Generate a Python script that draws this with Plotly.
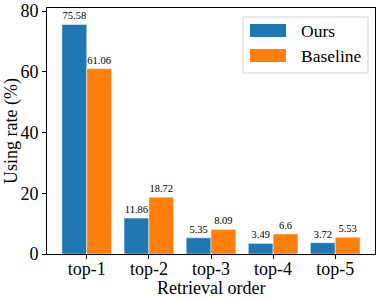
import plotly.graph_objects as go

categories = ["top-1", "top-2", "top-3", "top-4", "top-5"]
ours = [75.58, 11.86, 5.35, 3.49, 3.72]
baseline = [61.06, 18.72, 8.09, 6.6, 5.53]
ours_labels = ["75.58", "11.86", "5.35", "3.49", "3.72"]
baseline_labels = ["61.06", "18.72", "8.09", "6.6", "5.53"]
series_names = ["Ours", "Baseline"]
series_colors = ["#1f77b4", "#ff7f0e"]

font_family = "Liberation Serif, Times New Roman, serif"

fig = go.Figure()
for name, vals, labels, color in zip(series_names, [ours, baseline],
                                     [ours_labels, baseline_labels], series_colors):
    fig.add_trace(go.Bar(x=categories, y=vals, name=name, marker_color=color,
                         marker_line=dict(color="white", width=0.5),
                         text=labels, textposition="outside",
                         textfont=dict(size=10.5, color="black", family=font_family),
                         cliponaxis=False, showlegend=False))

# custom legend (wide swatches like matplotlib)
def px_x(p):
    return (p - 47) / 328

def px_y(p):
    return (254 - p) / 246

shapes = [dict(type="rect", xref="paper", yref="paper",
               x0=px_x(243), x1=px_x(368), y0=px_y(73), y1=px_y(17),
               line=dict(color="#d3d3d3", width=1), fillcolor="white", layer="above")]
annotations = []
for i, (name, color) in enumerate(zip(series_names, series_colors)):
    top = 24 + 25 * i
    shapes.append(dict(type="rect", xref="paper", yref="paper",
                       x0=px_x(250), x1=px_x(286), y0=px_y(top + 13), y1=px_y(top),
                       line=dict(width=0), fillcolor=color, layer="above"))
    annotations.append(dict(text=name, xref="paper", yref="paper",
                            x=px_x(299), y=px_y(top + 7), xanchor="left", yanchor="middle",
                            showarrow=False, font=dict(size=17.5, family=font_family, color="black")))

annotations.append(dict(text="Retrieval order", xref="paper", yref="paper",
                        x=0.5, y=px_y(288), xanchor="center", yanchor="middle",
                        showarrow=False, font=dict(size=18, family=font_family, color="black")))
annotations.append(dict(text="Using rate (%)", xref="paper", yref="paper",
                        x=px_x(11), y=0.5, xanchor="center", yanchor="middle", textangle=-90,
                        showarrow=False, font=dict(size=18, family=font_family, color="black")))

fig.update_layout(
    width=382, height=300,
    margin=dict(l=47, r=7, t=8, b=46, autoexpand=False),
    barmode="group", bargap=0.2, bargroupgap=0,
    plot_bgcolor="white", paper_bgcolor="white",
    font=dict(family=font_family, color="black", size=18),
    shapes=shapes, annotations=annotations,
    showlegend=False,
)
fig.update_xaxes(range=[-0.64, 4.64], showline=True, linecolor="black", linewidth=1,
                 mirror=True, ticks="outside", ticklen=4, tickcolor="black",
                 ticklabelstandoff=-6,
                 tickfont=dict(size=18), showgrid=False, automargin=False)
fig.update_yaxes(range=[0, 81], showline=True, linecolor="black", linewidth=1,
                 mirror=True, ticks="outside", ticklen=4, tickcolor="black",
                 tickvals=[0, 20, 40, 60, 80],
                 tickfont=dict(size=18), showgrid=False, zeroline=False, automargin=False)

fig.write_html("out.html", config={"displayModeBar": False},
               post_script="document.body.style.margin='0';document.body.style.padding='0';")
